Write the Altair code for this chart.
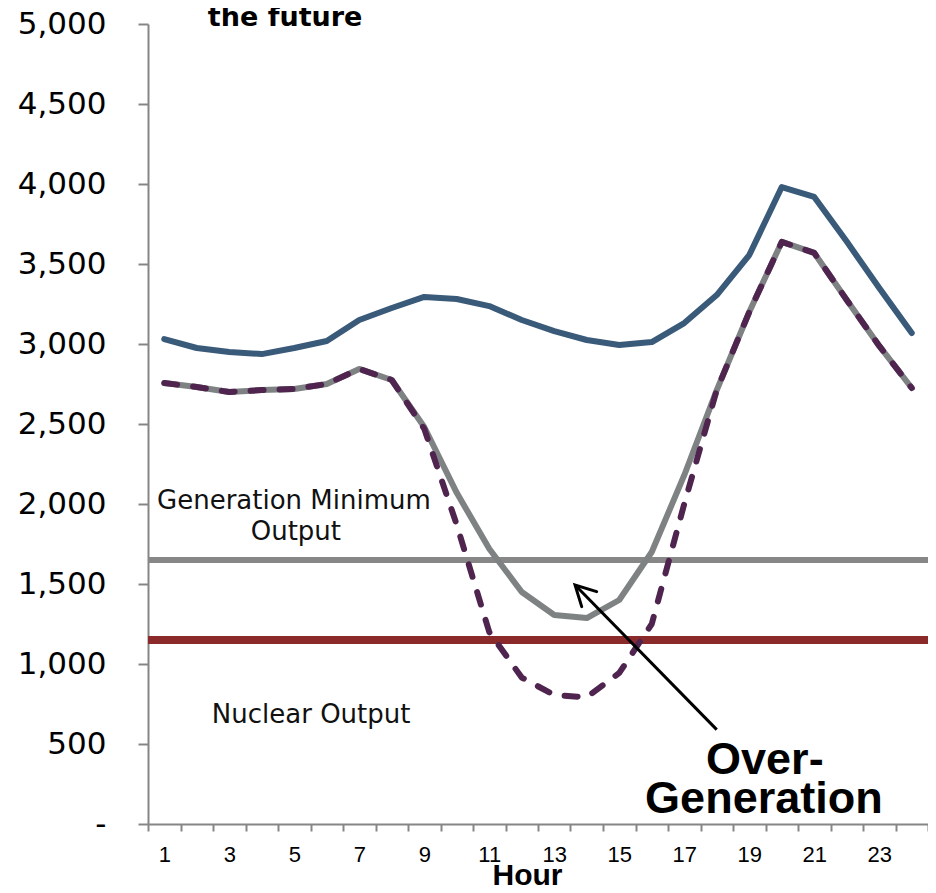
import altair as alt
import pandas as pd

# ---- data ----
hours = list(range(1, 25))
load = [3031, 2975, 2950, 2937, 2975, 3019, 3150, 3225, 3294, 3281, 3237, 3150,
        3080, 3025, 2994, 3012, 3131, 3306, 3556, 3981, 3919, 3640, 3350, 3069]
net_load = [2756, 2731, 2700, 2712, 2719, 2750, 2844, 2775, 2481, 2070, 1720, 1450,
            1306, 1287, 1400, 1700, 2180, 2712, 3200, 3638, 3569, 3275, 2988, 2725]
net_load_future = [2756, 2731, 2700, 2712, 2719, 2750, 2844, 2775, 2470, 1870, 1200, 915,
                   806, 792, 944, 1250, 2000, 2712, 3200, 3638, 3569, 3275, 2988, 2725]
gen_min_output = [1650]
nuclear_output = [1150]

y_ticks = list(range(0, 5001, 500))
x_tick_bounds = [i + 0.5 for i in range(25)]

# annotation texts (data coordinates)
gen_min_text = ["Generation Minimum", "Output"]
gen_min_text_hour = [4.99, 5.05]
gen_min_text_value = [2019, 1822]
nuclear_text = ["Nuclear Output"]
nuclear_text_hour = [5.52]
nuclear_text_value = [681]
overgen_text = ["Over-", "Generation"]
overgen_text_hour = [19.48, 19.45]
overgen_text_value = [400, 155]
title_text = ["the future"]
title_text_hour = [4.72]
title_text_value = [4990]
arrow_tail = (18.0, 590)
arrow_tip = (13.64, 1494)

AXIS_GRAY = "#868686"

xscale = alt.Scale(domain=[0.5, 24.5], nice=False, zero=False)
yscale = alt.Scale(domain=[0, 5000], nice=False)

xaxis = alt.Axis(
    values=x_tick_bounds,
    labelExpr="datum.value < 24 && (datum.value + 0.5) % 2 == 1 ? format(datum.value + 0.5, 'd') : ''",
    labelOffset=16.25, labelFlush=False, labelOverlap=False,
    labelFont="Liberation Sans", labelFontSize=22, labelColor="black", labelPadding=13,
    tickSize=7, tickWidth=2, tickColor=AXIS_GRAY,
    domainColor=AXIS_GRAY, domainWidth=2, grid=False,
    title="Hour", titleFont="Liberation Sans", titleFontSize=30, titleFontWeight="bold",
    titleColor="black", titleX=379, titleY=60, titleBaseline="alphabetic",
)
yaxis = alt.Axis(
    values=y_ticks,
    labelExpr="datum.value == 0 ? '-\u00a0\u00a0' : format(datum.value, ',')",
    labelFont="DejaVu Sans", labelFontSize=31, labelColor="black", labelPadding=32,
    tickSize=10, tickWidth=2, tickColor=AXIS_GRAY,
    domainColor=AXIS_GRAY, domainWidth=2, grid=False, title=None,
)

X = alt.X("hour:Q", scale=xscale, axis=xaxis)
Y = alt.Y("value:Q", scale=yscale, axis=yaxis)

lines_df = pd.DataFrame({"hour": hours, "load": load, "net": net_load, "future": net_load_future})

def series(col):
    return pd.DataFrame({"hour": hours, "value": lines_df[col]})

hline_gen = alt.Chart(pd.DataFrame({"value": gen_min_output})).mark_rule(
    color="#878787", strokeWidth=6).encode(y=Y)
hline_nuc = alt.Chart(pd.DataFrame({"value": nuclear_output})).mark_rule(
    color="#8B2A2B", strokeWidth=8).encode(y=Y)

blue = alt.Chart(series("load")).mark_line(
    color="#3A5A7A", strokeWidth=6, strokeCap="round", strokeJoin="round").encode(x=X, y=Y)
gray = alt.Chart(series("net")).mark_line(
    color="#7F8283", strokeWidth=6, strokeCap="round", strokeJoin="round").encode(x=X, y=Y)
purple = alt.Chart(series("future")).mark_line(
    color="#4F2550", strokeWidth=6, strokeCap="round", strokeJoin="round",
    strokeDash=[13, 16]).encode(x=X, y=Y)

t_gen = alt.Chart(pd.DataFrame({"text": gen_min_text, "hour": gen_min_text_hour,
                                "value": gen_min_text_value})).mark_text(
    font="DejaVu Sans", fontSize=26, color="#111111", align="center", baseline="middle"
).encode(x=X, y=Y, text="text:N")
t_nuc = alt.Chart(pd.DataFrame({"text": nuclear_text, "hour": nuclear_text_hour,
                                "value": nuclear_text_value})).mark_text(
    font="DejaVu Sans", fontSize=26, color="#111111", align="center", baseline="middle"
).encode(x=X, y=Y, text="text:N")
t_over = alt.Chart(pd.DataFrame({"text": overgen_text, "hour": overgen_text_hour,
                                 "value": overgen_text_value})).mark_text(
    font="Liberation Sans", fontSize=45, fontWeight="bold", color="black",
    align="center", baseline="middle"
).encode(x=X, y=Y, text="text:N")
t_title = alt.Chart(pd.DataFrame({"text": title_text, "hour": title_text_hour,
                                  "value": title_text_value})).mark_text(
    font="DejaVu Sans", fontSize=27, fontWeight="bold", color="black",
    align="center", baseline="alphabetic"
).encode(x=X, y=Y, text="text:N")

arrow_shaft = alt.Chart(pd.DataFrame({"hour": [arrow_tail[0]], "value": [arrow_tail[1]],
                                      "hour2": [arrow_tip[0]], "value2": [arrow_tip[1]]})).mark_rule(
    color="black", strokeWidth=3).encode(x=X, y=Y, x2="hour2:Q", y2="value2:Q")
arrow_head = alt.Chart(pd.DataFrame({"hour": [arrow_tip[0]], "value": [arrow_tip[1]]})).mark_point(
    shape="M-0.53,1L0,0L0.53,1", filled=False, stroke="black", strokeWidth=3, opacity=1,
    size=1600, angle=315, strokeCap="round").encode(x=X, y=Y)

chart = alt.layer(
    hline_gen, hline_nuc, blue, gray, purple,
    t_gen, t_nuc, t_over, t_title, arrow_shaft, arrow_head,
).properties(
    width=780, height=800,
    autosize=alt.AutoSizeParams(type="none"),
    padding={"left": 140, "top": 16, "right": 0, "bottom": 61},
    background="white",
).configure_view(stroke=None)

chart.save("out.html", embed_options={"renderer": "svg", "actions": False})
